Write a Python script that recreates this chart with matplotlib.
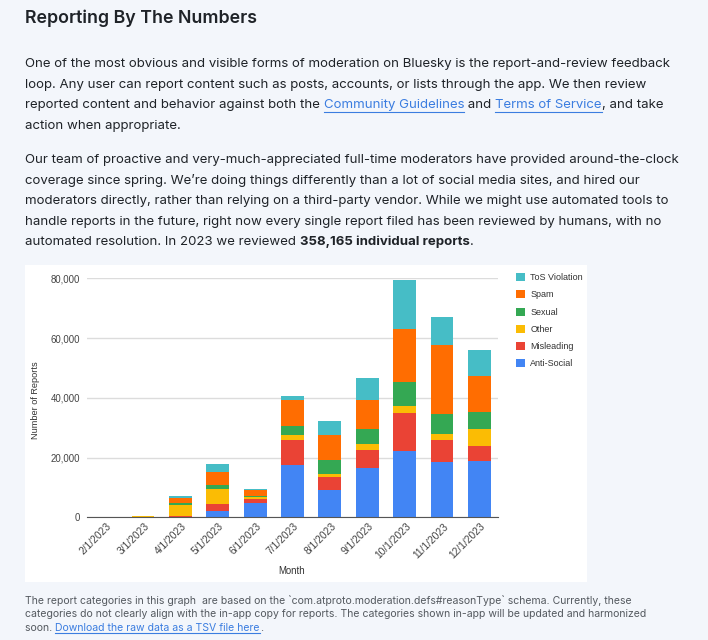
import matplotlib
matplotlib.use('Agg')
import matplotlib.pyplot as plt
import matplotlib.patches as mpatches
import matplotlib.transforms as mtransforms
from matplotlib.font_manager import FontProperties
import numpy as np

# data (reports per month)
months = ['2/1/2023', '3/1/2023', '4/1/2023', '5/1/2023', '6/1/2023', '7/1/2023',
          '8/1/2023', '9/1/2023', '10/1/2023', '11/1/2023', '12/1/2023']
anti_social = [60, 0, 100, 2100, 4800, 17500, 9150, 16500, 22100, 18500, 18900]
misleading = [20, 0, 200, 2400, 1450, 8400, 4250, 6000, 12700, 7400, 5000]
other = [10, 300, 3700, 5000, 550, 1800, 1100, 1900, 2600, 2000, 5700]
sexual = [10, 0, 900, 1400, 300, 2700, 4800, 5200, 7900, 6600, 5800]
spam = [20, 0, 1500, 4300, 2100, 8900, 8200, 9700, 17600, 23300, 12000]
tos = [10, 0, 700, 2700, 200, 1300, 4800, 7200, 16600, 9100, 8600]

series = ['Anti-Social', 'Misleading', 'Other', 'Sexual', 'Spam', 'ToS Violation']
colors = ['#4285f4', '#ea4335', '#fbbc04', '#34a853', '#ff6d01', '#46bdc6']
yticks = [0, 20000, 40000, 60000, 80000]

W, H = 708, 640
bg = '#f3f6fb'
txt = '#1f2328'
link = '#3b7de0'

fig = plt.figure(figsize=(W / 100, H / 100), dpi=100, facecolor=bg)
renderer = fig.canvas.get_renderer()


def fx(x):
    return x / W


def fy(y):
    return 1 - y / H


def adv(s, prop):
    # advance width in pixels, counting trailing spaces
    w1, _, _ = renderer.get_text_width_height_descent(s + '|', prop, ismath=False)
    w2, _, _ = renderer.get_text_width_height_descent('|', prop, ismath=False)
    return w1 - w2


def line(x, y, parts, size, family='Inter', color=txt):
    for s, style in parts:
        weight = 'bold' if style == 'b' else 'normal'
        c = link if style == 'l' else color
        prop = FontProperties(family=family, size=size, weight=weight)
        fig.text(fx(x), fy(y), s, fontproperties=prop, color=c, va='center', ha='left')
        w = adv(s, prop)
        if style == 'l':
            fig.add_artist(plt.Line2D([fx(x), fx(x + w)], [fy(y + size * 0.66), fy(y + size * 0.66)],
                                      color=c, lw=0.8))
        x += w


# heading and paragraphs
fig.text(fx(25), fy(18.5), 'Reporting By The Numbers', family='Inter', weight='semibold',
         size=12.8, color=txt, va='center', ha='left')

ps = 9.53
para1 = [
    [('One of the most obvious and visible forms of moderation on Bluesky is the report-and-review feedback', 'n')],
    [('loop. Any user can report content such as posts, accounts, or lists through the app. We then review', 'n')],
    [('reported content and behavior against both the ', 'n'), ('Community Guidelines', 'l'), (' and ', 'n'),
     ('Terms of Service', 'l'), (', and take', 'n')],
    [('action when appropriate.', 'n')],
]
for i, p in enumerate(para1):
    line(25, 64.5 + i * 20.4, p, ps)

para2 = [
    [('Our team of proactive and very-much-appreciated full-time moderators have provided around-the-clock', 'n')],
    [('coverage since spring. We\u2019re doing things differently than a lot of social media sites, and hired our', 'n')],
    [('moderators directly, rather than relying on a third-party vendor. While we might use automated tools to', 'n')],
    [('handle reports in the future, right now every single report filed has been reviewed by humans, with no', 'n')],
    [('automated resolution. In 2023 we reviewed ', 'n'), ('358,165 individual reports', 'b'), ('.', 'n')],
]
for i, p in enumerate(para2):
    line(25, 160.5 + i * 20.4, p, ps)

# white chart card
fig.patches.append(mpatches.Rectangle((fx(25), fy(582)), fx(587) - fx(25), fy(265) - fy(582),
                                      transform=fig.transFigure, facecolor='white', edgecolor='none',
                                      zorder=-5))

ax = fig.add_axes([fx(87), fy(517.3), fx(498) - fx(87), fy(278.3) - fy(517.3)])
ax.set_facecolor('white')
x = np.arange(len(months))
bottom = np.zeros(len(months))
data = [anti_social, misleading, other, sexual, spam, tos]
bars = []
for vals, name, c in zip(data, series, colors):
    b = ax.bar(x, vals, 0.61, bottom=bottom, color=c, label=name, zorder=3)
    bars.append(b)
    bottom += np.array(vals)

ax.set_xlim(-0.5, len(months) - 0.5)
ax.set_ylim(0, 80000)
ax.set_yticks(yticks)
ax.set_yticklabels([f'{v:,}' for v in yticks])
ax.yaxis.grid(True, color='#dcdcdc', lw=1.0, zorder=0)
for s in ['top', 'right', 'left']:
    ax.spines[s].set_visible(False)
ax.spines['bottom'].set_color('#555555')
ax.spines['bottom'].set_zorder(4)
ax.tick_params(axis='y', length=0, labelsize=6.9, colors='#444444', pad=5)
ax.tick_params(axis='x', length=0, labelsize=7.4, colors='#444444', pad=3)
ax.set_xticks(x)
ax.set_xticklabels(months, rotation=45, ha='right', va='top')
off = mtransforms.ScaledTranslation(8 / 100, 0, fig.dpi_scale_trans)
for lab in ax.get_xticklabels():
    lab.set_transform(lab.get_transform() + off)
    lab.set_fontfamily('Liberation Sans')
for lab in ax.get_yticklabels():
    lab.set_fontfamily('Liberation Sans')

fig.text(fx(35), fy(400), 'Number of Reports', rotation=90, va='center', ha='center',
         fontsize=6.6, color='#333333', family='Liberation Sans')
fig.text(fx(292), fy(571), 'Month', va='center', ha='center',
         fontsize=6.9, color='#333333', family='Liberation Sans')

leg = ax.legend(handles=bars[::-1], labels=series[::-1], loc='upper left',
                bbox_to_anchor=(fx(516), fy(273)), bbox_transform=fig.transFigure,
                frameon=False, handlelength=1.0, handleheight=1.0,
                labelspacing=0.9, handletextpad=0.6, borderpad=0, borderaxespad=0,
                prop={'family': 'Liberation Sans', 'size': 6.5})
for t in leg.get_texts():
    t.set_color('#333333')

# footnote
fs = 7.55
foot = [
    [('The report categories in this graph  are based on the `com.atproto.moderation.defs#reasonType` schema. Currently, these', 'n')],
    [('categories do not clearly align with the in-app copy for reports. The categories shown in-app will be updated and harmonized', 'n')],
    [('soon. ', 'n'), ('Download the raw data as a TSV file here', 'l'), ('.', 'n')],
]
for i, p in enumerate(foot):
    line(25, 600.5 + i * 13.6, p, fs, color='#555a60')

fig.savefig('out.png', dpi=100, facecolor=bg)
